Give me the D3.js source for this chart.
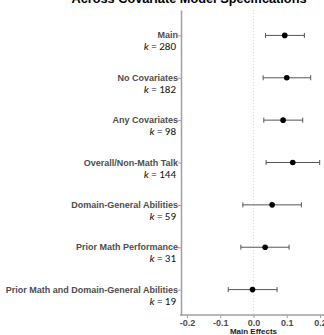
<!DOCTYPE html>
<html>
<head>
<meta charset="utf-8">
<script src="https://cdn.jsdelivr.net/npm/d3@7"></script>
<style>
  body { margin: 0; background: #fff; }
  svg { display: block; }
</style>
</head>
<body>
<div id="chart"></div>
<script>
// forest plot of main effects across covariate specifications

var categories = ['Main', 'No Covariates', 'Any Covariates', 'Overall/Non-Math Talk',
    'Domain-General Abilities', 'Prior Math Performance', 'Prior Math and Domain-General Abilities'];
var k_values = [280, 182, 98, 144, 59, 31, 19];
var estimates = [0.094, 0.100, 0.089, 0.118, 0.056, 0.035, -0.003];
var lower_ci = [0.036, 0.029, 0.031, 0.038, -0.032, -0.038, -0.076];
var upper_ci = [0.153, 0.172, 0.148, 0.199, 0.144, 0.107, 0.071];
var x_ticks = [-0.2, -0.1, 0.0, 0.1, 0.2];

var svg_size = {'width': 324, 'height': 335};
var plot = {'left': 181, 'right': 324, 'top': 10, 'bottom': 315};

var rows = categories.map(function(c, i){
    return {name: c, k: k_values[i], est: estimates[i], lo: lower_ci[i], hi: upper_ci[i]};
});

var svg = d3.select('#chart').append('svg')
    .attr('width', svg_size.width)
    .attr('height', svg_size.height);

var x_scale = d3.scaleLinear()
    .domain([-0.218, 0.212])
    .range([plot.left, plot.right]);

var y_scale = d3.scalePoint()
    .domain(categories)
    .range([plot.top, plot.bottom])
    .padding(0.6);

// title (clipped at top, as in reference)
svg.append('text')
    .attr('x', 189)
    .attr('y', 3)
    .attr('text-anchor', 'middle')
    .style('font-family', 'Liberation Sans, Arial, sans-serif')
    .style('font-weight', 'bold')
    .style('font-size', '12px')
    .attr('textLength', 235)
    .attr('lengthAdjust', 'spacingAndGlyphs')
    .text('Across Covariate Model Specifications');

// zero reference line
svg.append('line')
    .attr('x1', x_scale(0)).attr('x2', x_scale(0))
    .attr('y1', plot.top).attr('y2', plot.bottom)
    .style('stroke', '#d0d0d0')
    .style('stroke-width', 0.8)
    .style('stroke-dasharray', '1,2');

// x axis
var x_axis = d3.axisBottom(x_scale)
    .tickValues(x_ticks)
    .tickFormat(function(d){ return d.toFixed(1).replace('\u2212', '-'); })
    .tickSizeInner(3)
    .tickSizeOuter(0);

var x_axis_group = svg.append('g')
    .attr('transform', 'translate(0,' + plot.bottom + ')')
    .call(x_axis);

x_axis_group.select('.domain')
    .attr('d', 'M' + (plot.left - 1) + ',0H' + plot.right)
    .style('stroke', '#a0a0a0')
    .style('stroke-width', 1.5);
x_axis_group.selectAll('.tick line').style('stroke', '#a0a0a0');
x_axis_group.selectAll('.tick text')
    .attr('dy', 0)
    .attr('y', 11)
    .style('font-family', 'Liberation Sans, Arial, sans-serif')
    .style('font-weight', 'bold')
    .style('font-size', '9px')
    .style('fill', '#4d4d4d');

svg.append('text')
    .attr('x', x_scale(0))
    .attr('y', 334)
    .attr('text-anchor', 'middle')
    .style('font-family', 'Liberation Sans, Arial, sans-serif')
    .style('font-weight', 'bold')
    .style('font-size', '8px')
    .style('fill', '#222')
    .text('Main Effects');

// y axis
var y_axis = d3.axisLeft(y_scale)
    .tickSizeInner(3)
    .tickSizeOuter(0)
    .tickFormat('');

var y_axis_group = svg.append('g')
    .attr('transform', 'translate(' + plot.left + ',0)')
    .call(y_axis);

y_axis_group.select('.domain')
    .style('stroke', '#a0a0a0')
    .style('stroke-width', 1.5);
y_axis_group.selectAll('.tick line').style('stroke', '#a0a0a0');

// labels
var label_group = svg.append('g').selectAll('.row-label')
    .data(rows)
    .enter()
    .append('g')
    .classed('row-label', true)
    .attr('transform', function(d){ return 'translate(0,' + y_scale(d.name) + ')'; });

label_group.append('text')
    .attr('x', 178)
    .attr('y', 3)
    .attr('text-anchor', 'end')
    .style('font-family', 'Liberation Sans, Arial, sans-serif')
    .style('font-weight', 'bold')
    .style('font-size', '9px')
    .style('fill', '#4d4d4d')
    .text(function(d){ return d.name; });

var k_text = label_group.append('text')
    .attr('x', 176)
    .attr('y', 15)
    .attr('text-anchor', 'end')
    .style('font-family', 'Carlito, Open Sans, sans-serif')
    .style('font-size', '11px')
    .style('fill', '#111');
k_text.append('tspan').style('font-style', 'italic').text('k');
k_text.append('tspan').text(function(d){ return ' = ' + d.k; });

// error bars
var bars = svg.append('g').selectAll('.bar')
    .data(rows)
    .enter()
    .append('g')
    .classed('bar', true)
    .style('stroke', '#555')
    .style('stroke-width', 1);

bars.append('line')
    .attr('x1', function(d){ return x_scale(d.lo); })
    .attr('x2', function(d){ return x_scale(d.hi); })
    .attr('y1', function(d){ return y_scale(d.name); })
    .attr('y2', function(d){ return y_scale(d.name); });

bars.append('line')
    .attr('x1', function(d){ return x_scale(d.lo); })
    .attr('x2', function(d){ return x_scale(d.lo); })
    .attr('y1', function(d){ return y_scale(d.name) - 2.5; })
    .attr('y2', function(d){ return y_scale(d.name) + 2.5; });

bars.append('line')
    .attr('x1', function(d){ return x_scale(d.hi); })
    .attr('x2', function(d){ return x_scale(d.hi); })
    .attr('y1', function(d){ return y_scale(d.name) - 2.5; })
    .attr('y2', function(d){ return y_scale(d.name) + 2.5; });

svg.append('g').selectAll('circle')
    .data(rows)
    .enter()
    .append('circle')
    .attr('cx', function(d){ return x_scale(d.est); })
    .attr('cy', function(d){ return y_scale(d.name); })
    .attr('r', 2.8)
    .style('fill', '#000');
</script>
</body>
</html>
